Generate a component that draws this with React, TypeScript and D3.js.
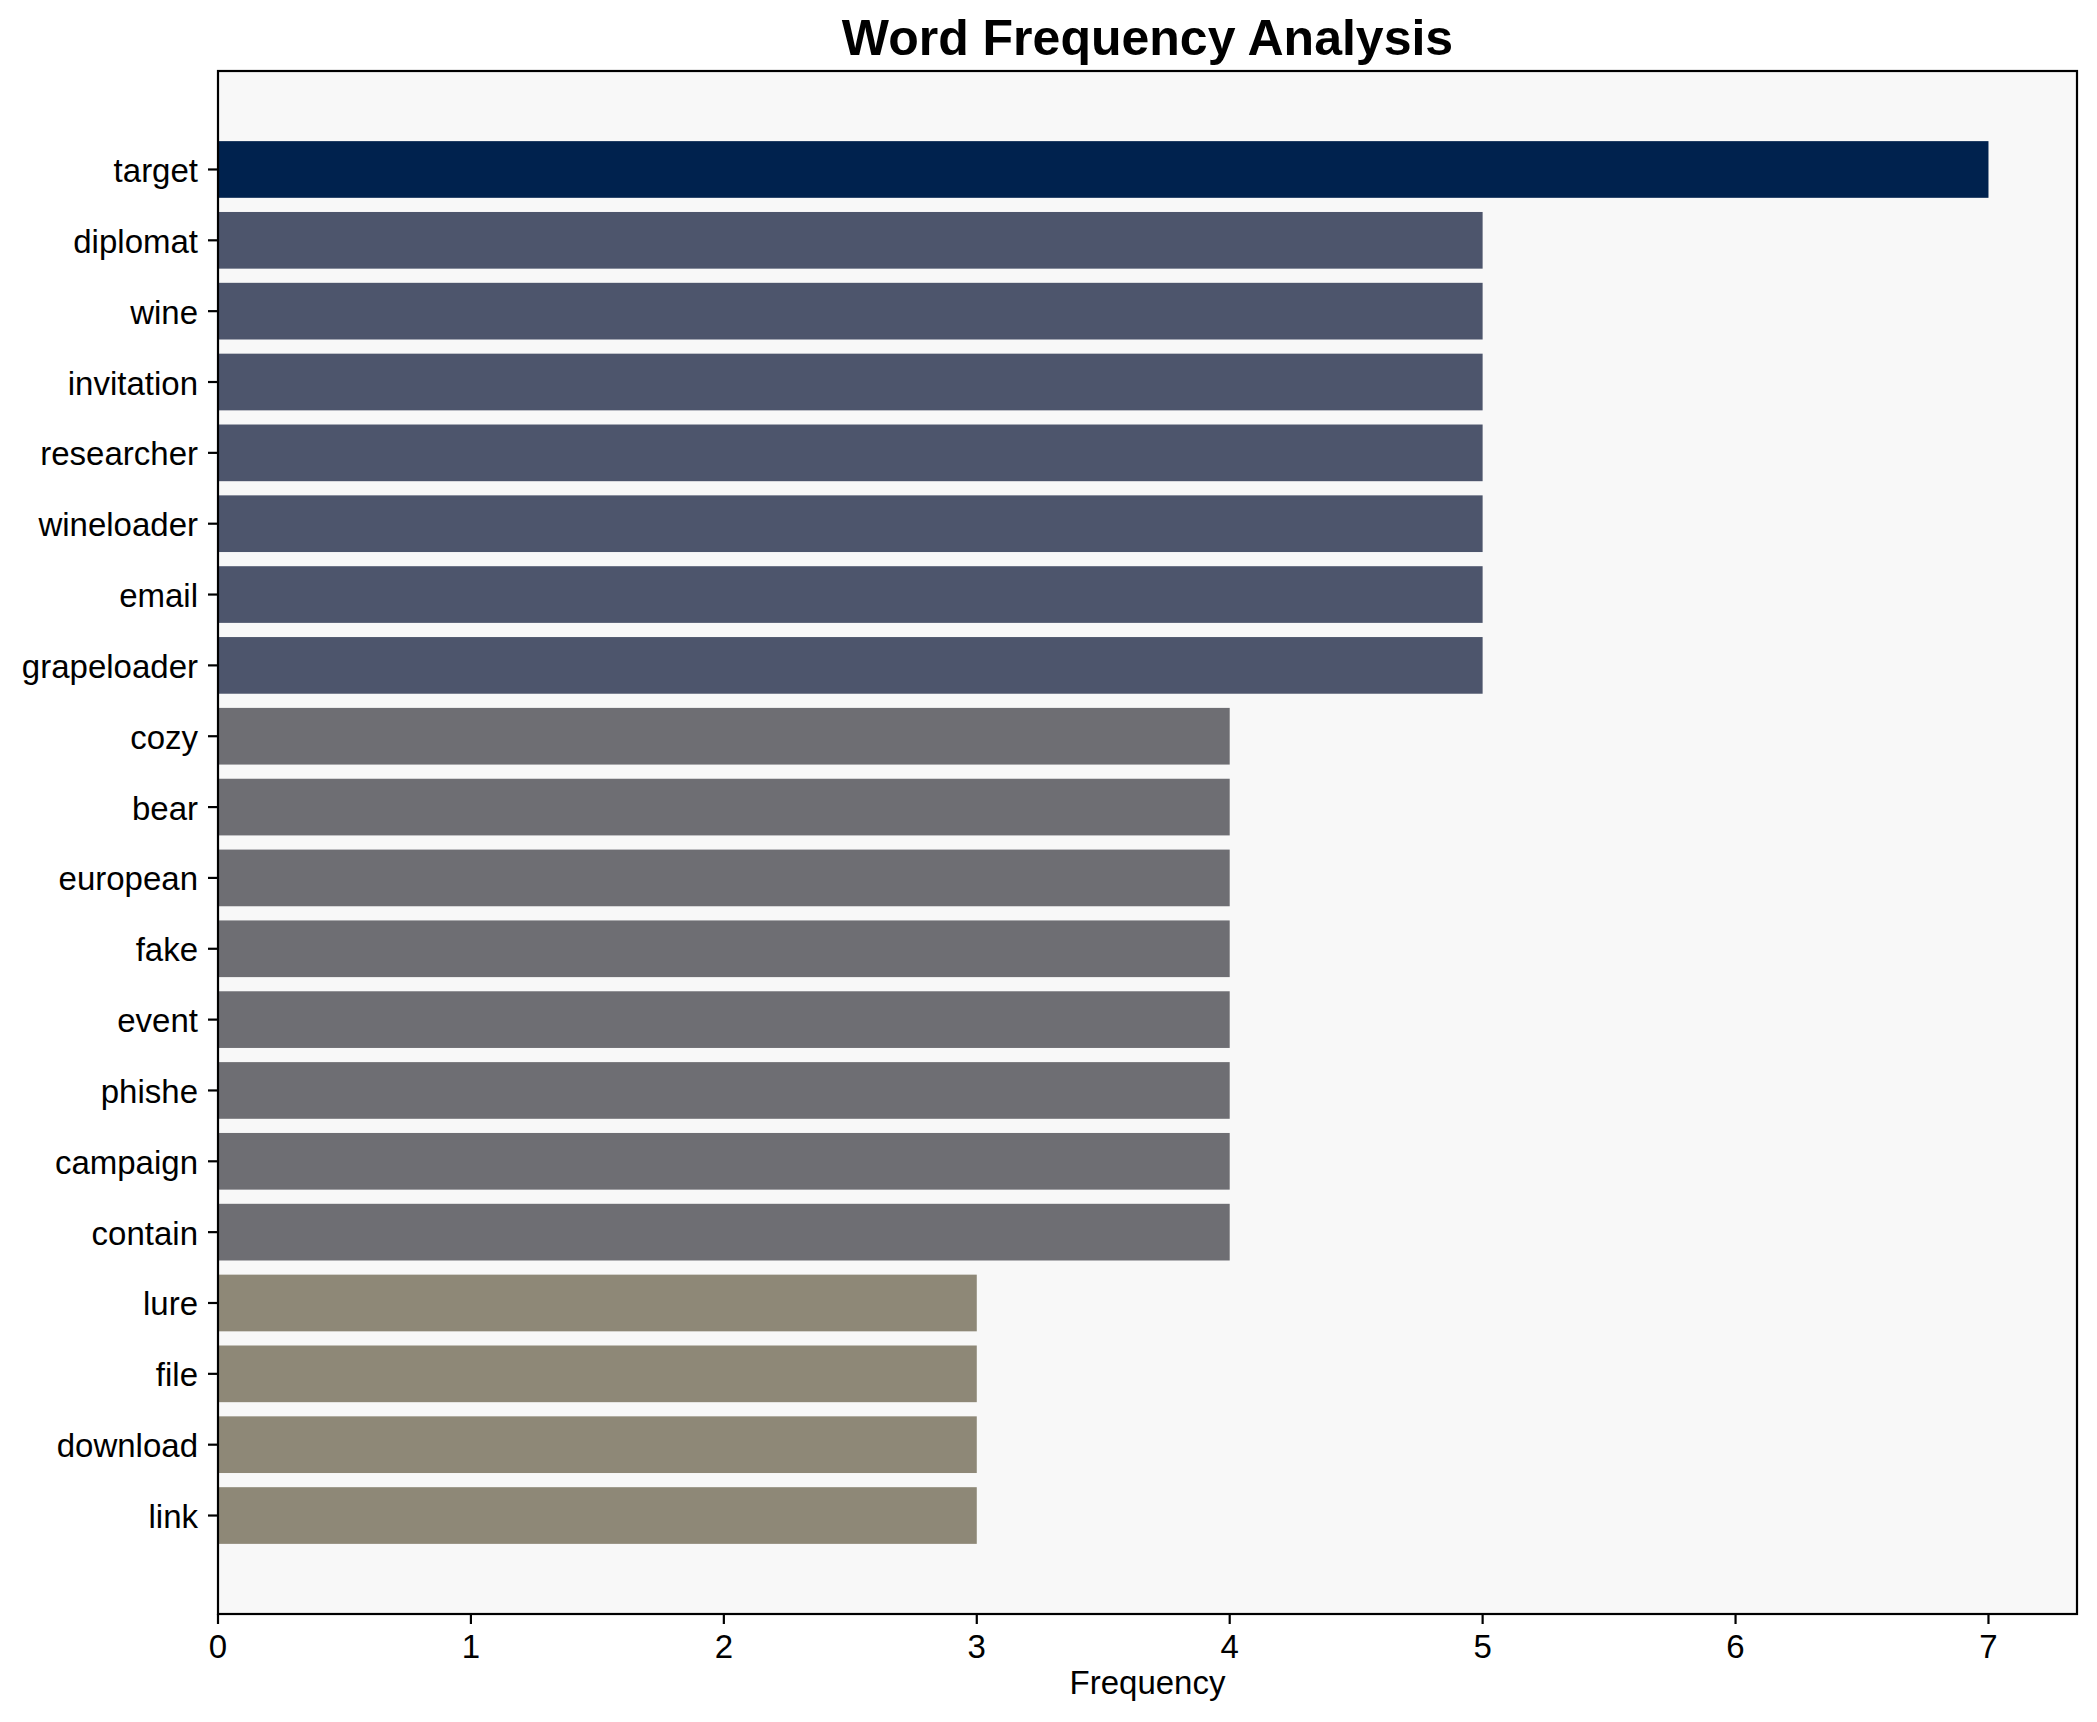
import React from "react";
import * as d3 from "d3";

const words = [
  "target", "diplomat", "wine", "invitation", "researcher", "wineloader", "email", "grapeloader",
  "cozy", "bear", "european", "fake", "event", "phishe", "campaign", "contain",
  "lure", "file", "download", "link",
];
const frequencies = [7, 5, 5, 5, 5, 5, 5, 5, 4, 4, 4, 4, 4, 4, 4, 4, 3, 3, 3, 3];
const xTicks = [0, 1, 2, 3, 4, 5, 6, 7];
const titleText = "Word Frequency Analysis";
const xLabel = "Frequency";

const W = 2097;
const H = 1722;
const L = 218;
const R = 2077;
const T = 71;
const B = 1614;
const FONT = "'Liberation Sans', Arial, Helvetica, sans-serif";

export default function App() {
  const maxV = d3.max(frequencies) as number;
  const x = d3.scaleLinear().domain([0, maxV * 1.05]).range([L, R]);
  const n = words.length;
  const lo = -0.4 - 0.05 * (n - 1 + 0.8);
  const hi = n - 1 + 0.4 + 0.05 * (n - 1 + 0.8);
  const y = d3.scaleLinear().domain([lo, hi]).range([T, B]);
  const color = d3
    .scaleOrdinal<number, string>()
    .domain([7, 5, 4, 3])
    .range(["#00224e", "#4d556c", "#6e6e73", "#8e8877"]);

  return (
    <svg width={W} height={H} style={{ position: "absolute", left: 0, top: 0, background: "#fff" }}>
      <rect x={0} y={0} width={W} height={H} fill="#ffffff" />
      <rect x={L} y={T} width={R - L} height={B - T} fill="#f8f8f8" />
      {words.map((w, i) => (
        <rect
          key={w}
          x={x(0)}
          y={y(i - 0.4)}
          width={x(frequencies[i]) - x(0)}
          height={y(i + 0.4) - y(i - 0.4)}
          fill={color(frequencies[i])}
        />
      ))}
      <rect x={L} y={T} width={R - L} height={B - T} fill="none" stroke="#000" strokeWidth={2.2} />
      {xTicks.map((t) => (
        <g key={t}>
          <line x1={x(t)} x2={x(t)} y1={B} y2={B + 10} stroke="#000" strokeWidth={2.2} />
          <text x={x(t)} y={1658} textAnchor="middle" fontFamily={FONT} fontSize={33} fill="#000">
            {t}
          </text>
        </g>
      ))}
      {words.map((w, i) => (
        <g key={"t" + w}>
          <line x1={L - 10} x2={L} y1={y(i)} y2={y(i)} stroke="#000" strokeWidth={2.2} />
          <text x={L - 20} y={y(i) + 12.5} textAnchor="end" fontFamily={FONT} fontSize={33} fill="#000">
            {w}
          </text>
        </g>
      ))}
      <text x={(L + R) / 2} y={1694} textAnchor="middle" fontFamily={FONT} fontSize={33} fill="#000">
        {xLabel}
      </text>
      <text x={(L + R) / 2} y={55} textAnchor="middle" fontFamily={FONT} fontSize={50} fontWeight="bold" fill="#000">
        {titleText}
      </text>
    </svg>
  );
}
